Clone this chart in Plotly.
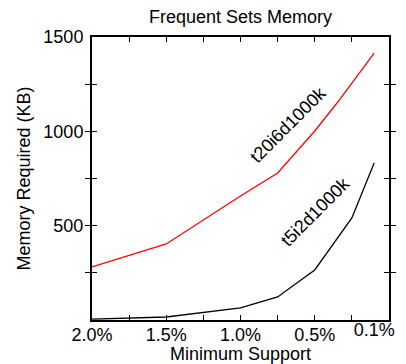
import plotly.graph_objects as go

# Data (minimum support in %, memory in KB)
support_t20 = [2.0, 1.5, 1.0, 0.75, 0.5, 0.35, 0.1]
memory_t20 = [281, 403, 657, 779, 1002, 1150, 1415]

support_t5 = [2.0, 1.5, 1.0, 0.75, 0.5, 0.35, 0.25, 0.1]
memory_t5 = [5, 16, 64, 122, 265, 430, 541, 832]

x_tickvals = [2.0, 1.75, 1.5, 1.25, 1.0, 0.75, 0.5, 0.25, 0.0]
x_ticktext = ["2.0%", "", "1.5%", "", "1.0%", "", "0.5%", "", ""]
x_last_tickval = [0.1]
x_last_ticktext = ["0.1%"]
y_tickvals = [0, 250, 500, 750, 1000, 1250, 1500]
y_ticktext = ["", "", "500", "", "1000", "", "1500"]

FONT = "Liberation Sans, Arial, sans-serif"
X_RANGE = [2.0, 0.0]

fig = go.Figure()
fig.add_trace(go.Scatter(x=support_t20, y=memory_t20, mode="lines",
                         line=dict(color="#ff0000", width=1.3), showlegend=False))
fig.add_trace(go.Scatter(x=support_t5, y=memory_t5, mode="lines", xaxis="x2",
                         line=dict(color="#000000", width=1.3), showlegend=False))

fig.add_annotation(x=0.68, y=1033, xref="x", yref="y", text="t20i6d1000k",
                   textangle=-45, showarrow=False, font=dict(family=FONT, size=18, color="black"))
fig.add_annotation(x=0.497, y=572, xref="x", yref="y", text="t5i2d1000k",
                   textangle=-45, showarrow=False, font=dict(family=FONT, size=18, color="black"))

fig.update_layout(
    width=406, height=364,
    margin=dict(l=92, r=17, t=37, b=44),
    paper_bgcolor="white", plot_bgcolor="white",
    font=dict(family=FONT, size=18, color="black"),
    title=dict(text="Frequent Sets Memory", x=0.5, xref="paper", xanchor="center",
               y=1, yref="container", yanchor="top", pad=dict(t=10),
               font=dict(family=FONT, size=18, color="black")),
    xaxis=dict(range=X_RANGE, tickmode="array", tickvals=x_tickvals, ticktext=x_ticktext,
               ticks="inside", ticklen=5, tickwidth=1, tickcolor="black",
               showline=True, linecolor="black", linewidth=2, mirror="allticks",
               showgrid=False, zeroline=False, automargin=False, ticklabelstandoff=-3,
               title=dict(text="Minimum Support", standoff=5, font=dict(family=FONT, size=18)),
               tickfont=dict(family=FONT, size=18)),
    xaxis2=dict(range=X_RANGE, overlaying="x", anchor="y", side="bottom",
                tickmode="array", tickvals=x_last_tickval, ticktext=x_last_ticktext,
                ticks="inside", ticklen=5, tickwidth=1, tickcolor="rgba(0,0,0,0)",
                showline=False, showgrid=False, zeroline=False, automargin=False,
                ticklabelstandoff=-3,
                tickfont=dict(family=FONT, size=18)),
    yaxis=dict(range=[0, 1500], tickmode="array", tickvals=y_tickvals, ticktext=y_ticktext,
               ticks="inside", ticklen=5, tickwidth=1, tickcolor="black",
               showline=True, linecolor="black", linewidth=2, mirror="allticks",
               showgrid=False, zeroline=False, automargin=False, ticklabelstandoff=3,
               title=dict(text="Memory Required (KB)", standoff=8, font=dict(family=FONT, size=18)),
               tickfont=dict(family=FONT, size=18)),
)

fig.write_html("out.html", config={"displayModeBar": False},
               post_script="document.body.style.margin='0';document.body.style.padding='0';")
